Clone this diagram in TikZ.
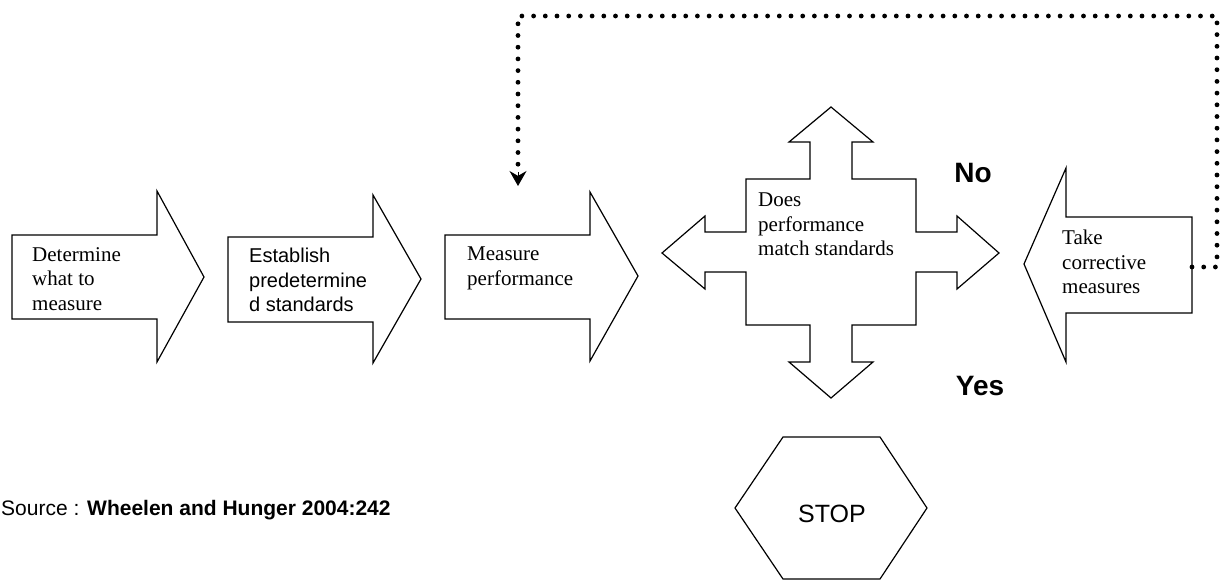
\documentclass[tikz,border=0pt]{standalone}
\usepackage{fontspec}
\setmainfont{Liberation Serif}
\setsansfont{Liberation Sans}
\usetikzlibrary{arrows.meta}

\tikzset{
  block/.style={draw, line width=1.2pt, line join=miter, fill=white},
  serifbox/.style={anchor=north west, inner sep=0pt, align=left,
    font=\fontsize{21}{24.5}\selectfont},
  sansbox/.style={anchor=north west, inner sep=0pt, align=left,
    font=\sffamily\fontsize{20}{24.5}\selectfont},
  answer/.style={inner sep=0pt, font=\sffamily\bfseries\fontsize{28}{30}\selectfont},
  feedback/.style={line width=4.8pt, line cap=round, dash pattern=on 0pt off 11.7pt},
}

\begin{document}
\begin{tikzpicture}[x=1pt, y=-1pt]

      \useasboundingbox (0,0) rectangle (1227,579);

      % block arrows
      \draw[block] (12,235) -- (157,235) -- (157,191) -- (204,277) -- (157,362) -- (157,319) -- (12,319) -- cycle;
      \draw[block] (228,237) -- (373,237) -- (373,195) -- (421,279) -- (373,363) -- (373,322) -- (228,322) -- cycle;
      \draw[block] (445,235) -- (590,235) -- (590,192) -- (638,276) -- (590,361) -- (590,319) -- (445,319) -- cycle;
      \draw[block] (1192,217) -- (1066,217) -- (1066,168) -- (1024,264) -- (1066,362) -- (1066,313) -- (1192,313) -- cycle;

      % four way arrow
      \draw[block] (831,107) -- (873,142) -- (852,142) -- (852,179) -- (916,179) -- (916,232)
        -- (957,232) -- (957,216) -- (999,253) -- (957,289) -- (957,272) -- (916,272)
        -- (916,325) -- (852,325) -- (852,362) -- (873,362) -- (831,398) -- (789,362)
        -- (810,362) -- (810,325) -- (746,325) -- (746,272) -- (705,272) -- (705,289)
        -- (662,253) -- (705,216) -- (705,232) -- (746,232) -- (746,179) -- (810,179)
        -- (810,142) -- (789,142) -- cycle;

      % stop
      \draw[block] (783,437) -- (880,437) -- (927,508) -- (880,579) -- (783,579) -- (735,508) -- cycle;

      \begin{scope}[every node/.style={serifbox}]
        \node (determine) at (32,247) {Determine\\what to\\measure};
        \node (measure)   at (467,247) {Measure\\performance};
        \node (match)     at (758,193) {Does\\performance\\match standards};
        \node (corrective) at (1062,230) {Take\\corrective\\measures};
      \end{scope}
      \node[sansbox] (establish) at (249,248) {Establish\\predetermine\\d standards};

      \node[answer] (no)  at (973,173) {No};
      \node[answer] (yes) at (980,386) {Yes};
      \node[inner sep=0pt, font=\sffamily\fontsize{25}{27}\selectfont] (stop) at (832,514) {STOP};
      \node[anchor=base west, inner sep=0pt, font=\sffamily\fontsize{21}{24}\selectfont] (source)
        at (1,515) {Source : \textbf{Wheelen and Hunger 2004:242}};

      % feedback loop
      \coordinate (takeout) at (1192,267);
      \coordinate (measurein) at (518,186);
      \draw[feedback] (takeout) -- (1217,267) -- (1217,16) -- (518,16) -- (518,168);
      \draw[-{Stealth[length=15pt, width=17pt]}, line width=1pt] (518,172) -- (measurein);

    \end{tikzpicture}
\end{document}
